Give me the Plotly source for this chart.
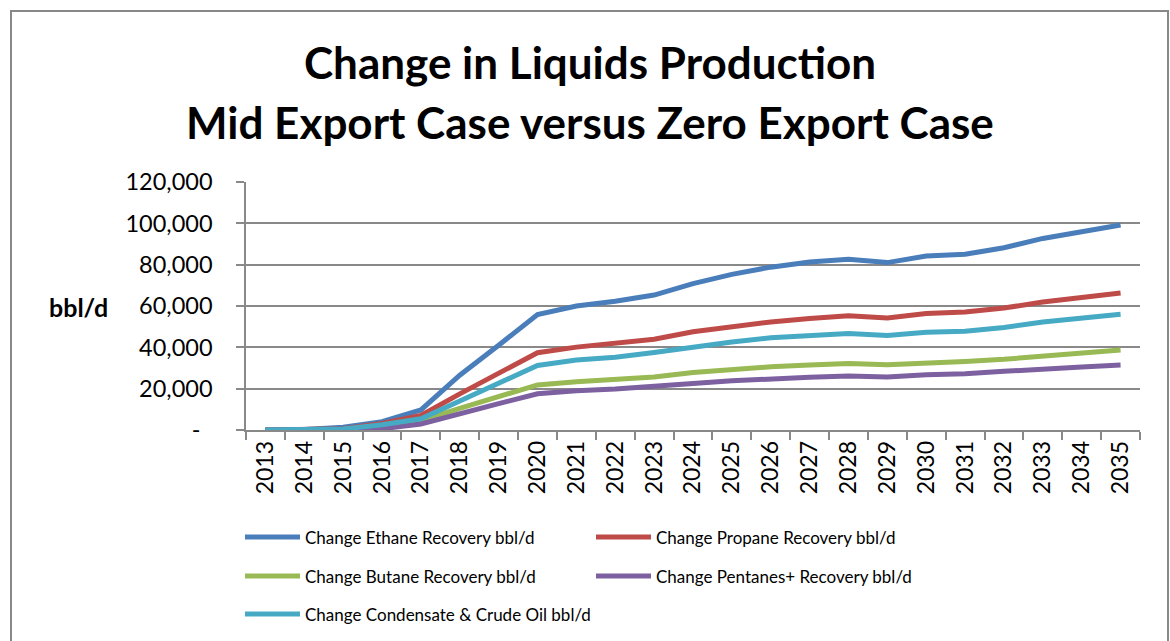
import plotly.graph_objects as go

years = [str(y) for y in range(2013, 2036)]

ethane = [0, 300, 1300, 4000, 9700, 26500, 41000, 55900, 60000, 62300, 65300, 70800,
          75300, 78800, 81300, 82600, 81000, 84200, 85000, 88200, 92700, 96000, 99200]
propane = [0, 100, 600, 3200, 7000, 17500, 27500, 37400, 40100, 41700, 43900, 47500,
           50200, 52300, 53900, 55300, 54200, 56400, 57100, 59000, 61900, 64000, 66300]
butane = [0, 50, 300, 1500, 4500, 10500, 16200, 21800, 23400, 24200, 25600, 27800,
          29500, 30600, 31400, 32200, 31600, 32700, 33200, 34200, 35800, 37200, 38700]
pentanes = [0, 0, 150, 600, 2900, 8000, 12800, 17500, 19000, 19800, 20900, 22500,
            23800, 24800, 25500, 26100, 25600, 26700, 27200, 28400, 29700, 30500, 31400]
condensate = [0, 100, 500, 2500, 5400, 14000, 22600, 31200, 33900, 35200, 37500, 40300,
              42600, 44600, 45800, 46700, 45700, 47300, 47800, 49600, 52300, 54300, 56000]

series_names = [
    "Change Ethane Recovery bbl/d",
    "Change Propane Recovery bbl/d",
    "Change Butane Recovery bbl/d",
    "Change Pentanes+ Recovery bbl/d",
    "Change Condensate & Crude Oil bbl/d",
]
series_values = [ethane, propane, butane, pentanes, condensate]
colors = ["#4A7EBB", "#BE4B48", "#98B954", "#7D60A0", "#46AAC5"]

y_tickvals = [0, 20000, 40000, 60000, 80000, 100000, 120000]
y_ticktext = ["-\u00a0\u00a0", "20,000", "40,000", "60,000", "80,000", "100,000", "120,000"]

title_lines = ["Change in Liquids Production", "Mid Export Case versus Zero Export Case"]
y_title = "bbl/d"

W, H = 1170, 641
L, R, T, B = 246, 1140, 182, 430
FONT = "Lato"

def px_x(x):
    return (x - L) / (R - L)

def px_y(y):
    return (B - y) / (B - T)

fig = go.Figure()
for name, vals, col in zip(series_names, series_values, colors):
    fig.add_trace(go.Scatter(x=years, y=vals, mode="lines", name=name,
                             line=dict(color=col, width=5), showlegend=False))

grid = "#898989"
fig.update_layout(
    width=W, height=H,
    margin=dict(l=L, r=W - R, t=T, b=H - B),
    paper_bgcolor="white", plot_bgcolor="white",
    font=dict(family=FONT, color="black"),
)
fig.update_xaxes(
    type="category", range=[-0.5, len(years) - 0.5],
    showgrid=False, showline=True, linecolor=grid, linewidth=1.5,
    ticks="outside", tickson="boundaries", ticklen=8, tickcolor=grid, tickwidth=1.5,
    tickangle=-90, tickfont=dict(size=23, family=FONT, color="black"),
)
fig.update_yaxes(
    range=[0, 120000], tickvals=y_tickvals, ticktext=y_ticktext,
    showgrid=True, gridcolor=grid, gridwidth=1.5,
    showline=True, linecolor=grid, linewidth=1.5,
    ticks="outside", ticklen=8, tickcolor=grid, tickwidth=1.5,
    tickfont=dict(size=23.5, family=FONT, color="black"),
    ticklabelstandoff=19, zeroline=False,
)

annotations = []
shapes = []
# Titles
for text, ycen in zip(title_lines, [62, 122]):
    annotations.append(dict(text="<b>%s</b>" % text, x=px_x(590), y=px_y(ycen),
                            xref="paper", yref="paper", showarrow=False,
                            xanchor="center", yanchor="middle",
                            font=dict(size=44, family=FONT, color="black")))
# Y-axis title
annotations.append(dict(text="<b>%s</b>" % y_title, x=px_x(78), y=px_y(307),
                        xref="paper", yref="paper", showarrow=False,
                        xanchor="center", yanchor="middle",
                        font=dict(size=25, family=FONT, color="black")))
# Custom legend
legend_pos = [(245, 537), (596, 537), (245, 576), (596, 576), (245, 614)]
for name, col, (lx, ly) in zip(series_names, colors, legend_pos):
    shapes.append(dict(type="line", xref="paper", yref="paper",
                       x0=px_x(lx), x1=px_x(lx + 55), y0=px_y(ly), y1=px_y(ly),
                       line=dict(color=col, width=5)))
    annotations.append(dict(text=name, x=px_x(lx + 58), y=px_y(ly),
                            xref="paper", yref="paper", showarrow=False,
                            xanchor="left", yanchor="middle",
                            font=dict(size=17, family=FONT, color="black")))
# Chart border
shapes.append(dict(type="rect", xref="paper", yref="paper",
                   x0=px_x(11), x1=px_x(1168), y0=px_y(680), y1=px_y(11),
                   line=dict(color="#888888", width=2)))

fig.update_layout(annotations=annotations, shapes=shapes)
fig.write_html("out.html", config={"displayModeBar": False},
               post_script="document.body.style.margin='0';document.body.style.overflow='hidden';")
